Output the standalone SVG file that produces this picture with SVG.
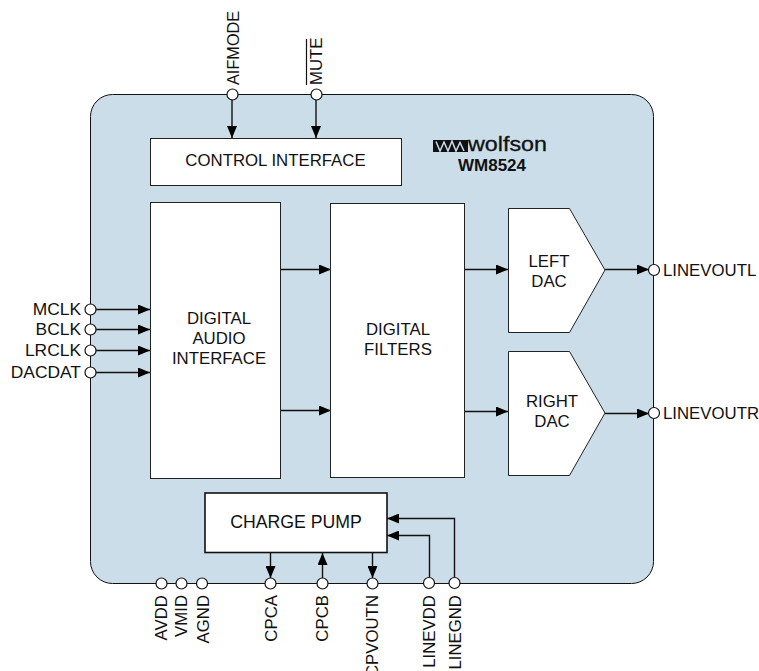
<svg xmlns="http://www.w3.org/2000/svg" width="759" height="671" viewBox="0 0 759 671">
<style>
text{font-family:"Liberation Sans",Arial,sans-serif;font-size:16.800px;fill:#111}
.m{text-anchor:middle}
.e{text-anchor:end}
.box{fill:#fff;stroke:#222;stroke-width:1}
.c{fill:none;stroke:#111;stroke-width:1.4}
.h{fill:#000;stroke:none}
.pin{fill:#fff;stroke:#111;stroke-width:1.2}
</style>
<defs>
<marker id="a" viewBox="0 0 12 10" refX="12" refY="5" markerWidth="12" markerHeight="10" markerUnits="userSpaceOnUse" orient="auto"><path class="h" d="M0 0L12 5L0 10Z"/></marker>
</defs>
<g id="chip"><rect x="90.500" y="94.500" width="563" height="489" rx="22" fill="#cbdde9" stroke="#111" stroke-width="1"/></g>
<g id="connectors">
<path class="c" marker-end="url(#a)" d="M232 99V138"/>
<path class="c" marker-end="url(#a)" d="M316 99V138"/>
<path class="c" marker-end="url(#a)" d="M95 309.500H150"/>
<path class="c" marker-end="url(#a)" d="M95 329.500H150"/>
<path class="c" marker-end="url(#a)" d="M95 350.500H150"/>
<path class="c" marker-end="url(#a)" d="M95 372.500H150"/>
<path class="c" marker-end="url(#a)" d="M281 269.500H331"/>
<path class="c" marker-end="url(#a)" d="M281 410.500H331"/>
<path class="c" marker-end="url(#a)" d="M465 269.500H508"/>
<path class="c" marker-end="url(#a)" d="M465 411.500H508"/>
<path class="c" marker-end="url(#a)" d="M605 269.500H649"/>
<path class="c" marker-end="url(#a)" d="M605 413.500H649"/>
<path class="c" marker-end="url(#a)" d="M270.500 553V578"/>
<path class="c" marker-end="url(#a)" d="M322.500 578V553"/>
<path class="c" marker-end="url(#a)" d="M372.500 553V578"/>
<path class="c" marker-end="url(#a)" d="M429.500 577V535.500H387"/>
<path class="c" marker-end="url(#a)" d="M454.500 577V518.500H387"/>
</g>
<g id="control-interface"><rect class="box" x="150.500" y="138.500" width="251" height="47"/><text class="m" x="275.500" y="166">CONTROL INTERFACE</text></g>
<g id="digital-audio-interface"><rect class="box" x="150.500" y="202.500" width="130" height="276"/><text class="m" x="219" y="324">DIGITAL</text><text class="m" x="219" y="344">AUDIO</text><text class="m" x="219" y="364">INTERFACE</text></g>
<g id="digital-filters"><rect class="box" x="330.500" y="203.500" width="134" height="274"/><text class="m" x="398" y="335">DIGITAL</text><text class="m" x="398" y="355">FILTERS</text></g>
<g id="left-dac"><path class="box" d="M508.500 208.500H569.500L605 270L569.500 332.500H508.500Z"/><text class="m" x="549" y="267">LEFT</text><text class="m" x="549" y="287">DAC</text></g>
<g id="right-dac"><path class="box" d="M508.500 351.500H569.500L605 413L569.500 475.500H508.500Z"/><text class="m" x="552" y="407">RIGHT</text><text class="m" x="552" y="427">DAC</text></g>
<g id="charge-pump"><rect x="205" y="493" width="182" height="59.500" fill="#fff" stroke="#111" stroke-width="1.6"/><text class="m" x="296" y="528" style="font-size:17.700px">CHARGE PUMP</text></g>
<g id="logo">
<rect x="433" y="140" width="35" height="12" fill="#111"/>
<path d="M436 141.500L440 151L444 142L448 151L452 141L456 151L460 142.500L464 151" fill="none" stroke="#cbdde9" stroke-width="1.500"/>
<text x="468" y="151" style="font-size:20px;stroke:#111;stroke-width:.3" textLength="79" lengthAdjust="spacingAndGlyphs">wolfson</text>
<text class="m" x="492" y="171" style="font-size:17px;font-weight:bold">WM8524</text>
</g>
<g id="pin-aifmode"><circle class="pin" cx="232.500" cy="94.500" r="5.500"/><text transform="translate(239,85) rotate(-90)" style="font-size:16.300px">AIFMODE</text></g>
<g id="pin-mute"><circle class="pin" cx="316.500" cy="94.500" r="5.500"/><text transform="translate(322,85) rotate(-90)">MUTE</text><path d="M306.500 85V39" stroke="#111" stroke-width="1.200" fill="none"/></g>
<g id="pin-mclk"><circle class="pin" cx="90.500" cy="309.500" r="5.500"/><text class="e" x="81" y="315" style="font-size:17.400px">MCLK</text></g>
<g id="pin-bclk"><circle class="pin" cx="90.500" cy="329.500" r="5.500"/><text class="e" x="81" y="335" style="font-size:17.400px">BCLK</text></g>
<g id="pin-lrclk"><circle class="pin" cx="90.500" cy="350.500" r="5.500"/><text class="e" x="81" y="356" style="font-size:17.400px">LRCLK</text></g>
<g id="pin-dacdat"><circle class="pin" cx="90.500" cy="372.500" r="5.500"/><text class="e" x="81" y="378" style="font-size:17.400px">DACDAT</text></g>
<g id="pin-linevoutl"><circle class="pin" cx="654" cy="270" r="5.500"/><text x="663" y="276">LINEVOUTL</text></g>
<g id="pin-linevoutr"><circle class="pin" cx="654" cy="413" r="5.500"/><text x="663" y="419">LINEVOUTR</text></g>
<g id="pin-avdd"><circle class="pin" cx="161.500" cy="583.500" r="5.500"/><text class="e" transform="translate(167,595) rotate(-90)">AVDD</text></g>
<g id="pin-vmid"><circle class="pin" cx="181.500" cy="583.500" r="5.500"/><text class="e" transform="translate(187,595) rotate(-90)">VMID</text></g>
<g id="pin-agnd"><circle class="pin" cx="202" cy="583.500" r="5.500"/><text class="e" transform="translate(209,595) rotate(-90)">AGND</text></g>
<g id="pin-cpca"><circle class="pin" cx="270.500" cy="583.500" r="5.500"/><text class="e" transform="translate(277,595) rotate(-90)">CPCA</text></g>
<g id="pin-cpcb"><circle class="pin" cx="322.500" cy="583.500" r="5.500"/><text class="e" transform="translate(328,595) rotate(-90)">CPCB</text></g>
<g id="pin-cpvoutn"><circle class="pin" cx="372.500" cy="583.500" r="5.500"/><text class="e" transform="translate(378,595) rotate(-90)">CPVOUTN</text></g>
<g id="pin-linevdd"><circle class="pin" cx="429" cy="583" r="5.500"/><text class="e" transform="translate(435,595) rotate(-90)">LINEVDD</text></g>
<g id="pin-linegnd"><circle class="pin" cx="454.500" cy="583" r="5.500"/><text class="e" transform="translate(461,595) rotate(-90)">LINEGND</text></g>
</svg>
